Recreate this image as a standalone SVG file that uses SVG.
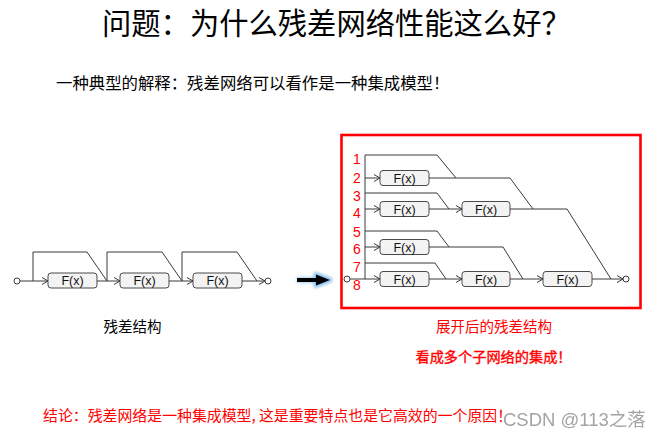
<svg xmlns="http://www.w3.org/2000/svg" width="664" height="437" viewBox="0 0 664 437">
<style>
.cjk{font-family:"Noto Sans CJK SC","Noto Sans",sans-serif;}
.box{fill:#f3f3f3;stroke:#4a4a4a;stroke-width:1;}
.fx{font-family:"Liberation Sans",Arial,sans-serif;font-size:12.5px;fill:#111;text-anchor:middle;}
.ln{fill:none;stroke:#3a3a3a;stroke-width:1;}
.arr{marker-end:url(#open);}
.term{fill:#fff;stroke:#3a3a3a;stroke-width:1;}
.num{font-family:"Liberation Sans",Arial,sans-serif;font-size:14px;fill:#ff0000;text-anchor:middle;}
.red{fill:#ff0000;}
</style>
<defs>
<marker id="open" viewBox="0 0 8 8" refX="7" refY="4" markerWidth="8" markerHeight="8" markerUnits="userSpaceOnUse" orient="auto">
<path d="M1,0.5 L7,4 L1,7.5" fill="none" stroke="#3a3a3a" stroke-width="1"/>
</marker>
<filter id="glow" x="-30%" y="-80%" width="160%" height="260%">
<feGaussianBlur stdDeviation="1.6"/>
</filter>
</defs>
<rect width="664" height="437" fill="#fff"/>

<g id="title" class="cjk">
<text x="102" y="33.5" font-size="29.3" fill="#000">问题：为什么残差网络性能这么好？</text>
<text x="56" y="89" font-size="16.4" fill="#000">一种典型的解释：残差网络可以看作是一种集成模型！</text>
</g>

<!-- left diagram -->
<g id="left-in"><circle class="term" cx="17" cy="281" r="3"/></g>
<g id="left-f1"><rect class="box" x="48" y="273" width="49" height="15" rx="3"/><text class="fx" x="72.5" y="285.3">F(x)</text></g>
<g id="left-f2"><rect class="box" x="120" y="273" width="49" height="15" rx="3"/><text class="fx" x="144.5" y="285.3">F(x)</text></g>
<g id="left-f3"><rect class="box" x="193" y="273" width="49" height="15" rx="3"/><text class="fx" x="217.5" y="285.3">F(x)</text></g>
<g id="left-out"><circle class="term" cx="268" cy="281" r="3"/></g>
<g id="left-label"><text class="cjk" x="132.5" y="332" font-size="14.5" fill="#000" text-anchor="middle">残差结构</text></g>

<!-- big arrow -->
<g id="big-arrow">
<path d="M297,280 H318 M316,274.5 L330,280 L316,285.5 Z" fill="#6fb4ee" stroke="#6fb4ee" stroke-width="5" stroke-linejoin="round" filter="url(#glow)" opacity="0.8"/>
<path d="M297,280 H318" stroke="#000" stroke-width="4"/>
<path d="M316,274.5 L330,280 L316,285.5 Z" fill="#000"/>
</g>

<!-- right diagram -->
<g id="frame"><rect x="341.5" y="135" width="299" height="173" fill="none" stroke="#ff0000" stroke-width="2.6"/></g>
<g id="numbers">
<text class="num" x="357" y="164">1</text>
<text class="num" x="357" y="183">2</text>
<text class="num" x="357" y="201">3</text>
<text class="num" x="357" y="218">4</text>
<text class="num" x="357" y="237">5</text>
<text class="num" x="357" y="254">6</text>
<text class="num" x="357" y="272">7</text>
<text class="num" x="357" y="290">8</text>
</g>
<g id="right-in"><circle class="term" cx="347" cy="279" r="3"/></g>
<g id="r-f2"><rect class="box" x="380" y="170.5" width="49" height="15" rx="3"/><text class="fx" x="404.5" y="182.8">F(x)</text></g>
<g id="r-f4a"><rect class="box" x="380" y="201.5" width="49" height="15" rx="3"/><text class="fx" x="404.5" y="213.8">F(x)</text></g>
<g id="r-f4b"><rect class="box" x="462" y="201.5" width="48" height="15" rx="3"/><text class="fx" x="486" y="213.8">F(x)</text></g>
<g id="r-f6"><rect class="box" x="380" y="239.5" width="49" height="15" rx="3"/><text class="fx" x="404.5" y="251.8">F(x)</text></g>
<g id="r-f8a"><rect class="box" x="380" y="271.5" width="49" height="15" rx="3"/><text class="fx" x="404.5" y="283.8">F(x)</text></g>
<g id="r-f8b"><rect class="box" x="462" y="271.5" width="48" height="15" rx="3"/><text class="fx" x="486" y="283.8">F(x)</text></g>
<g id="r-f8c"><rect class="box" x="543" y="271.5" width="49" height="15" rx="3"/><text class="fx" x="567.5" y="283.8">F(x)</text></g>
<g id="right-out"><circle class="term" cx="626" cy="279" r="3"/></g>
<g id="right-labels" class="cjk">
<text x="494" y="332" font-size="14.5" class="red" text-anchor="middle">展开后的残差结构</text>
<text x="493.5" y="362" font-size="14.2" class="red" stroke="#ff0000" stroke-width="0.35" text-anchor="middle">看成多个子网络的集成！</text>
</g>

<g id="connectors">
<!-- left -->
<path class="ln arr" d="M20,281 H48"/>
<path class="ln" d="M33,281 V252 H87 L107,281"/>
<path class="ln arr" d="M97,281 H120"/>
<path class="ln" d="M107,281 V252 H162 L182,281"/>
<path class="ln arr" d="M169,281 H193"/>
<path class="ln" d="M182,281 V252 H237 L257,281"/>
<path class="ln arr" d="M242,281 H265"/>
<!-- right -->
<path class="ln" d="M350,279 H365 M365,155 V279"/>
<path class="ln" d="M365,155 H437 L456,178"/>
<path class="ln arr" d="M365,178 H380"/>
<path class="ln" d="M429,178 H510 L533,209"/>
<path class="ln" d="M365,193 H437 L449,209"/>
<path class="ln arr" d="M365,209 H380"/>
<path class="ln arr" d="M429,209 H462"/>
<path class="ln" d="M510,209 H567 L611,279"/>
<path class="ln" d="M365,231 H437 L449,247"/>
<path class="ln arr" d="M365,247 H380"/>
<path class="ln" d="M429,247 H503 L523,279"/>
<path class="ln" d="M365,263 H435 L446,279"/>
<path class="ln arr" d="M365,279 H380"/>
<path class="ln arr" d="M429,279 H462"/>
<path class="ln arr" d="M510,279 H543"/>
<path class="ln arr" d="M592,279 H623"/>
</g>

<g id="conclusion" class="cjk">
<text x="43" y="421" font-size="14.9" class="red">结论：残差网络是一种集成模型, 这是重要特点也是它高效的一个原因！</text>
</g>
<g id="watermark">
<text x="503" y="426" font-family="'Liberation Sans','Noto Sans CJK SC',sans-serif" font-size="18.5" fill="#9a9a9a" opacity="0.9">CSDN @113之落</text>
</g>
</svg>
